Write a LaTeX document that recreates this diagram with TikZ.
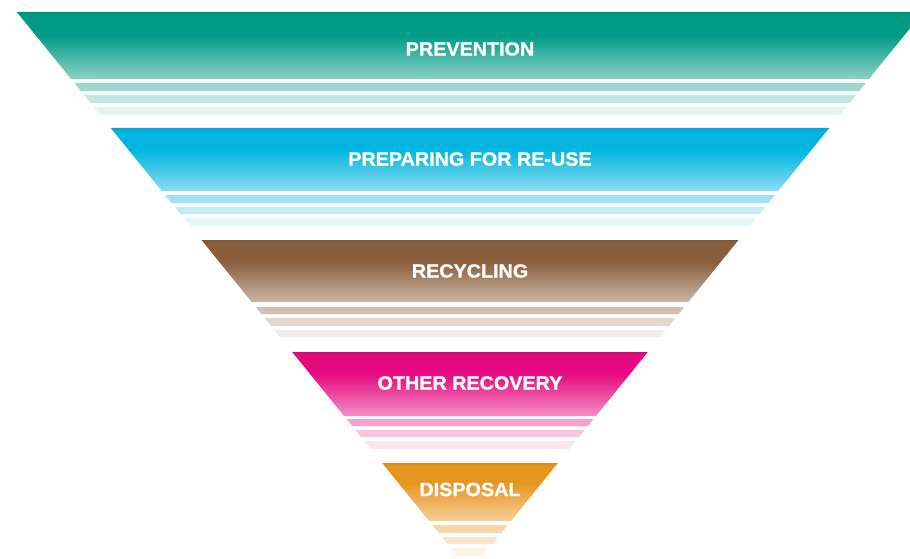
\documentclass[tikz,border=0pt]{standalone}
\usepackage{fontspec}
\newfontfamily\lblfont{Liberation Sans Bold}[FakeStretch=1.04,FakeBold=1.3]

% tier colours
\definecolor{tierA}{RGB}{0,155,134}
\definecolor{tierB}{RGB}{0,181,224}
\definecolor{tierC}{RGB}{138,93,59}
\definecolor{tierD}{RGB}{229,9,127}
\definecolor{tierE}{RGB}{232,149,30}

% vertical fade for the main block of a tier (path box maps to 25bp..75bp)
\newcommand\mkfade[2]{%
  \pgfdeclareverticalshading{#1}{100bp}{%
    color(0bp)=(#2!45!white); color(25bp)=(#2!45!white);
    color(58bp)=(#2); color(72bp)=(#2);
    color(75bp)=(#2!93!black); color(100bp)=(#2!93!black)}}
\mkfade{fadeA}{tierA}
\mkfade{fadeB}{tierB}
\mkfade{fadeC}{tierC}
\mkfade{fadeD}{tierD}
\mkfade{fadeE}{tierE}

% slice of the inverted triangle between heights #1 and #2
\newcommand\slice[3]{%
  \pgfmathsetmacro\ha{0.81*(571.5-#1)}%
  \pgfmathsetmacro\hb{0.81*(571.5-#2)}%
  \path[#3] (470-\ha,#1) -- (470+\ha,#1) -- (470+\hb,#2) -- (470-\hb,#2) -- cycle;}

\tikzset{
  tierlabel/.style={text=white, inner sep=0pt,
    font=\lblfont\fontsize{19}{22}\selectfont}
}

\begin{document}
\begin{tikzpicture}[x=1pt,y=-1pt]
  \useasboundingbox (0,0) rectangle (910,559);
  \clip (0,0) rectangle (910,559);

  % top, block bottom, three stripes, colour, fade
  \foreach \t/\b/\sa/\sb/\sc/\sd/\se/\sf/\col/\fd in {
      12/79/83/91/95/103/107/115/tierA/fadeA,
      128/191/195/203/207/214/218/226/tierB/fadeB,
      240/302/307/314/318/326/330/337/tierC/fadeC,
      352/416/419/426/430/437/441/449/tierD/fadeD,
      463/521/525/533/537/544/548/556/tierE/fadeE}{
    \slice{\t}{\b}{shading=\fd}
    \slice{\sa}{\sb}{fill=\col!38!white}
    \slice{\sc}{\sd}{fill=\col!24!white}
    \slice{\se}{\sf}{fill=\col!11!white}
  }

  \node[tierlabel] (prevention) at (470,49)    {PREVENTION};
  \node[tierlabel] (reuse)      at (470,159)   {PREPARING FOR RE-USE};
  \node[tierlabel] (recycling)  at (470,271)   {RECYCLING};
  \node[tierlabel] (recovery)   at (470,383)   {OTHER RECOVERY};
  \node[tierlabel] (disposal)   at (470,489.5) {DISPOSAL};
\end{tikzpicture}
\end{document}
